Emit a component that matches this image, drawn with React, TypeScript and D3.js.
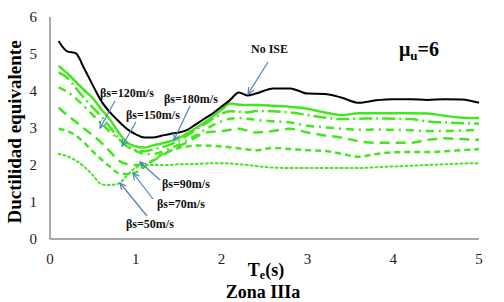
import React from "react";
import * as d3 from "d3";

const T = [0.1,0.2,0.3,0.4,0.5,0.6,0.7,0.8,0.9,1.0,1.1,1.2,1.3,1.4,1.5,1.6,1.7,1.8,1.9,2.0,2.1,2.2,2.3,2.4,2.6,2.8,3.0,3.2,3.4,3.6,3.8,4.0,4.2,4.4,4.6,4.8,5.0];

const noISE = [5.35,5.07,5.02,4.6,4.15,3.72,3.42,3.18,2.97,2.83,2.74,2.74,2.79,2.84,2.88,2.95,3.1,3.25,3.4,3.58,3.76,3.96,3.88,3.93,4.07,4.07,3.93,3.92,3.82,3.68,3.75,3.78,3.78,3.76,3.78,3.77,3.68];
const bs180 = [4.68,4.48,4.25,4.02,3.8,3.5,3.22,2.88,2.6,2.5,2.47,2.53,2.58,2.64,2.72,2.86,3.0,3.15,3.32,3.5,3.66,3.63,3.62,3.62,3.6,3.57,3.52,3.42,3.35,3.4,3.4,3.4,3.4,3.39,3.33,3.28,3.27];
const bs150 = [4.5,4.36,4.08,3.8,3.55,3.3,3.02,2.72,2.5,2.4,2.37,2.42,2.48,2.55,2.65,2.8,2.95,3.1,3.25,3.38,3.45,3.44,3.42,3.46,3.45,3.42,3.35,3.28,3.24,3.25,3.26,3.25,3.24,3.18,3.15,3.13,3.12];
const bs120 = [4.1,3.98,3.8,3.58,3.35,3.12,2.9,2.7,2.52,2.38,2.3,2.3,2.35,2.45,2.55,2.68,2.8,2.95,3.08,3.18,3.25,3.27,3.25,3.22,3.18,3.15,3.06,3.02,2.98,2.95,2.96,2.95,2.94,2.92,2.92,2.93,2.95];
const bs90 = [3.55,3.35,3.17,2.98,2.8,2.6,2.36,2.12,2.02,2.0,2.04,2.12,2.25,2.38,2.5,2.62,2.75,2.88,2.9,2.92,2.95,2.98,2.93,2.88,2.92,2.98,2.88,2.8,2.74,2.64,2.6,2.6,2.6,2.68,2.72,2.7,2.68];
const bs70 = [2.98,2.92,2.8,2.6,2.36,2.15,1.95,1.78,1.76,1.8,1.95,2.12,2.28,2.38,2.46,2.5,2.53,2.53,2.52,2.5,2.48,2.45,2.42,2.4,2.46,2.43,2.4,2.38,2.3,2.22,2.3,2.34,2.35,2.35,2.37,2.4,2.43];
const bs50 = [2.3,2.24,2.12,1.95,1.72,1.48,1.46,1.5,1.72,1.93,2.0,2.0,2.0,2.0,2.02,2.02,2.03,2.04,2.05,2.05,2.04,2.02,2.0,1.97,1.93,1.92,1.92,1.92,1.92,1.92,1.94,1.96,1.98,2.0,2.02,2.04,2.05];

const xTicks = [0, 1, 2, 3, 4, 5];
const yTicks = [0, 1, 2, 3, 4, 5, 6];

const GREEN = "#44e61e";

const series = [
  { name: "No ISE", values: noISE, color: "#000000", width: 2, dash: "" },
  { name: "180", values: bs180, color: GREEN, width: 2.5, dash: "" },
  { name: "150", values: bs150, color: GREEN, width: 2.5, dash: "13,4,2,4" },
  { name: "120", values: bs120, color: GREEN, width: 2.5, dash: "8,5,2,5" },
  { name: "90", values: bs90, color: GREEN, width: 2.5, dash: "10,6" },
  { name: "70", values: bs70, color: GREEN, width: 2.5, dash: "6,4" },
  { name: "50", values: bs50, color: GREEN, width: 2, dash: "2,3" },
];

const labels = [
  { text: "βs=120m/s", x: 100, y: 97, ax1: 115, ay1: 101, ax2: 100, ay2: 128 },
  { text: "βs=150m/s", x: 126, y: 119, ax1: 136, ay1: 122, ax2: 122, ay2: 146 },
  { text: "βs=180m/s", x: 164, y: 103, ax1: 190, ay1: 106, ax2: 174, ay2: 140 },
  { text: "βs=90m/s", x: 162, y: 188, ax1: 160, ay1: 180, ax2: 140, ay2: 162 },
  { text: "βs=70m/s", x: 157, y: 208, ax1: 153, ay1: 199, ax2: 133, ay2: 173 },
  { text: "βs=50m/s", x: 126, y: 228, ax1: 147, ay1: 216, ax2: 120, ay2: 183 },
  { text: "No ISE", x: 251, y: 53, ax1: 268, ay1: 62, ax2: 248, ay2: 94 },
];

const FONT = "'Liberation Serif', 'DejaVu Serif', Times, serif";

function Arrow({ x1, y1, x2, y2 }: { x1: number; y1: number; x2: number; y2: number }) {
  const ang = Math.atan2(y2 - y1, x2 - x1);
  const L = 7, w = 0.45;
  const p1 = [x2 - L * Math.cos(ang - w), y2 - L * Math.sin(ang - w)];
  const p2 = [x2 - L * Math.cos(ang + w), y2 - L * Math.sin(ang + w)];
  const c = "#4f81bd";
  return (
    <g stroke={c} strokeWidth={1.2} fill="none">
      <line x1={x1} y1={y1} x2={x2} y2={y2} />
      <polyline points={`${p1[0]},${p1[1]} ${x2},${y2} ${p2[0]},${p2[1]}`} />
    </g>
  );
}

export default function App() {
  const W = 504, H = 302;
  const x = d3.scaleLinear().domain([0, 5]).range([50, 479]);
  const y = d3.scaleLinear().domain([0, 6]).range([239, 17]);
  const line = d3
    .line<number>()
    .x((_, i) => x(T[i]))
    .y((d) => y(d))
    .curve(d3.curveMonotoneX);
  return (
    <svg width={W} height={H} style={{ position: "absolute", left: 0, top: 0, background: "#fff" }} fontFamily={FONT}>
      <rect width={W} height={H} fill="#fff" />
      <line x1={x(0)} y1={y(6)} x2={x(0)} y2={y(0)} stroke="#8c8c8c" strokeWidth={1.5} />
      <line x1={x(0)} y1={y(0)} x2={x(5)} y2={y(0)} stroke="#8c8c8c" strokeWidth={1.5} />
      {yTicks.map((t) => (
        <text key={"y" + t} x={37} y={y(t)} dy="0.35em" textAnchor="end" fontSize={15} fill="#222" fontFamily={FONT}>
          {t}
        </text>
      ))}
      {xTicks.map((t) => (
        <text key={"x" + t} x={x(t)} y={259} dy="0.35em" textAnchor="middle" fontSize={15} fill="#222" fontFamily={FONT}>
          {t}
        </text>
      ))}
      {series.slice().reverse().map((s) => (
        <path
          key={s.name}
          d={line(s.values) || ""}
          fill="none"
          stroke={s.color}
          strokeWidth={s.width}
          strokeDasharray={s.dash || undefined}
          strokeLinecap={s.name === "50" ? "round" : "butt"}
          strokeLinejoin="round"
        />
      ))}
      {labels.map((l) => (
        <g key={l.text}>
          <text x={l.x} y={l.y} fontSize={12} fontWeight="bold" fill="#111" fontFamily={FONT}>
            {l.text}
          </text>
          <Arrow x1={l.ax1} y1={l.ay1} x2={l.ax2} y2={l.ay2} />
        </g>
      ))}
      <text x={399} y={56} fontSize={20} fontWeight="bold" fill="#000" fontFamily={FONT}>
        μ<tspan fontSize={13} dy={4}>u</tspan>
        <tspan dy={-4}>=6</tspan>
      </text>
      <text
        transform={`translate(21, ${(y(0) + y(6)) / 2 + 4}) rotate(-90)`}
        textAnchor="middle"
        fontSize={19}
        fontWeight="bold"
        fill="#000"
        fontFamily={FONT}
      >
        Ductilidad equivalente
      </text>
      <text x={266} y={276} textAnchor="middle" fontSize={18} fontWeight="bold" fill="#000" fontFamily={FONT}>
        T<tspan fontSize={12} dy={3}>e</tspan>
        <tspan dy={-3}>(s)</tspan>
      </text>
      <text x={263} y={298} textAnchor="middle" fontSize={18} fontWeight="bold" fill="#000" fontFamily={FONT}>
        Zona IIIa
      </text>
    </svg>
  );
}
